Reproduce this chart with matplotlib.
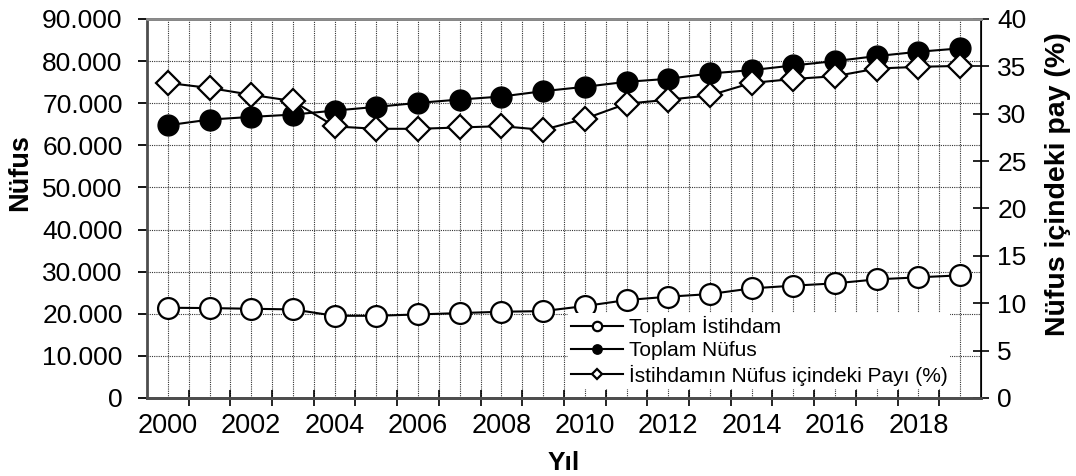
import numpy as np
import matplotlib
matplotlib.use('Agg')
from matplotlib import pyplot as plt
from matplotlib.ticker import FuncFormatter, MultipleLocator

plt.rcParams['font.family'] = ['Liberation Sans', 'DejaVu Sans']

# data (thousand persons / percent)
years = list(range(2000, 2020))
istihdam = [21430, 21350, 21190, 21030, 19520, 19520, 19840, 20160, 20480, 20630,
            21830, 23250, 24050, 24680, 26030, 26670, 27220, 28170, 28650, 29130]
nufus = [64760, 66110, 66750, 67300, 68250, 69130, 70080, 70870, 71590, 72860,
         73890, 75080, 75790, 77060, 77860, 78970, 80000, 81190, 82220, 83020]
pay = [33.25, 32.72, 32.0, 31.34, 28.66, 28.41, 28.41, 28.55, 28.69, 28.3,
       29.47, 31.06, 31.48, 31.94, 33.25, 33.67, 33.96, 34.77, 34.95, 35.05]
year_labels = [str(y) if y % 2 == 0 else '' for y in years]

fig = plt.figure(figsize=(10.76, 4.76), dpi=100)
ax = fig.add_axes([0.1366, 0.1639, 0.7751, 0.7962])
ax2 = ax.twinx()

# lines
l1, = ax.plot(years, istihdam, color='black', lw=1.5, marker='o', ms=15,
              mfc='white', mec='black', mew=1.6, zorder=3)
l2, = ax.plot(years, nufus, color='black', lw=1.5, marker='o', ms=15,
              mfc='black', mec='black', zorder=3)
l3, = ax2.plot(years, pay, color='black', lw=1.5, marker='D', ms=12,
               mfc='white', mec='black', mew=1.6, zorder=3)

# axes ranges
ax.set_xlim(years[0] - 0.5, years[-1] + 0.5)
ax.set_ylim(0, 90000)
ax2.set_ylim(0, 40)

ax.yaxis.set_major_locator(MultipleLocator(10000))
ax.yaxis.set_major_formatter(FuncFormatter(lambda v, p: f'{int(v):,}'.replace(',', '.')))
ax2.yaxis.set_major_locator(MultipleLocator(5))

ax.set_xticks(years)
ax.set_xticklabels(year_labels)
ax.set_xticks([y + 0.5 for y in years[:-1]], minor=True)
ax.tick_params(axis='x', which='major', length=0, labelsize=19.5, pad=10.5)
ax.tick_params(axis='x', which='minor', direction='inout', length=12, width=1.2)
ax.tick_params(axis='y', direction='out', length=6.5, width=1.3, labelsize=19, pad=11)
ax2.tick_params(axis='y', direction='inout', length=11.5, width=1.2, labelsize=19, pad=6)

# grid
ax.grid(True, which='both', axis='x', linestyle=(0, (1, 1)), color='0.2', lw=0.8)
ax.grid(True, which='major', axis='y', linestyle=(0, (1, 1)), color='0.2', lw=0.8)
ax.set_axisbelow(True)

for s in ['left', 'bottom', 'top']:
    ax.spines[s].set_color('0.3')
    ax.spines[s].set_linewidth(2)
ax2.spines['top'].set_color('0.55')
ax2.spines['top'].set_linewidth(2)
ax2.spines['left'].set_visible(False)
ax2.spines['bottom'].set_color('0.3')
ax2.spines['bottom'].set_linewidth(2)
ax2.spines['right'].set_linewidth(1.2)

ax.set_xlabel('Yıl', fontsize=19, fontweight='bold')
ax.xaxis.set_label_coords(0.5, -0.14)
ax.set_ylabel('Nüfus', fontsize=19.5, fontweight='bold')
ax.yaxis.set_label_coords(-0.136, 0.595)
ax2.set_ylabel('Nüfus içindeki pay (%)', fontsize=20.5, fontweight='bold')
ax2.yaxis.set_label_coords(1.077, 0.563)

leg = ax2.legend([l1, l2, l3],
                 ['Toplam İstihdam', 'Toplam Nüfus', 'İstihdamın Nüfus içindeki Payı (%)'],
                 loc='upper left', bbox_to_anchor=(0.505, 0.224), borderaxespad=0,
                 fontsize=15, markerscale=0.45, handlelength=2.5, handletextpad=0.25,
                 labelspacing=0.2, borderpad=0.15, frameon=True, fancybox=False)
leg.get_frame().set_facecolor('white')
leg.get_frame().set_edgecolor('none')
leg.get_frame().set_alpha(1)
leg.set_zorder(10)

plt.savefig('out.png', dpi=100)
